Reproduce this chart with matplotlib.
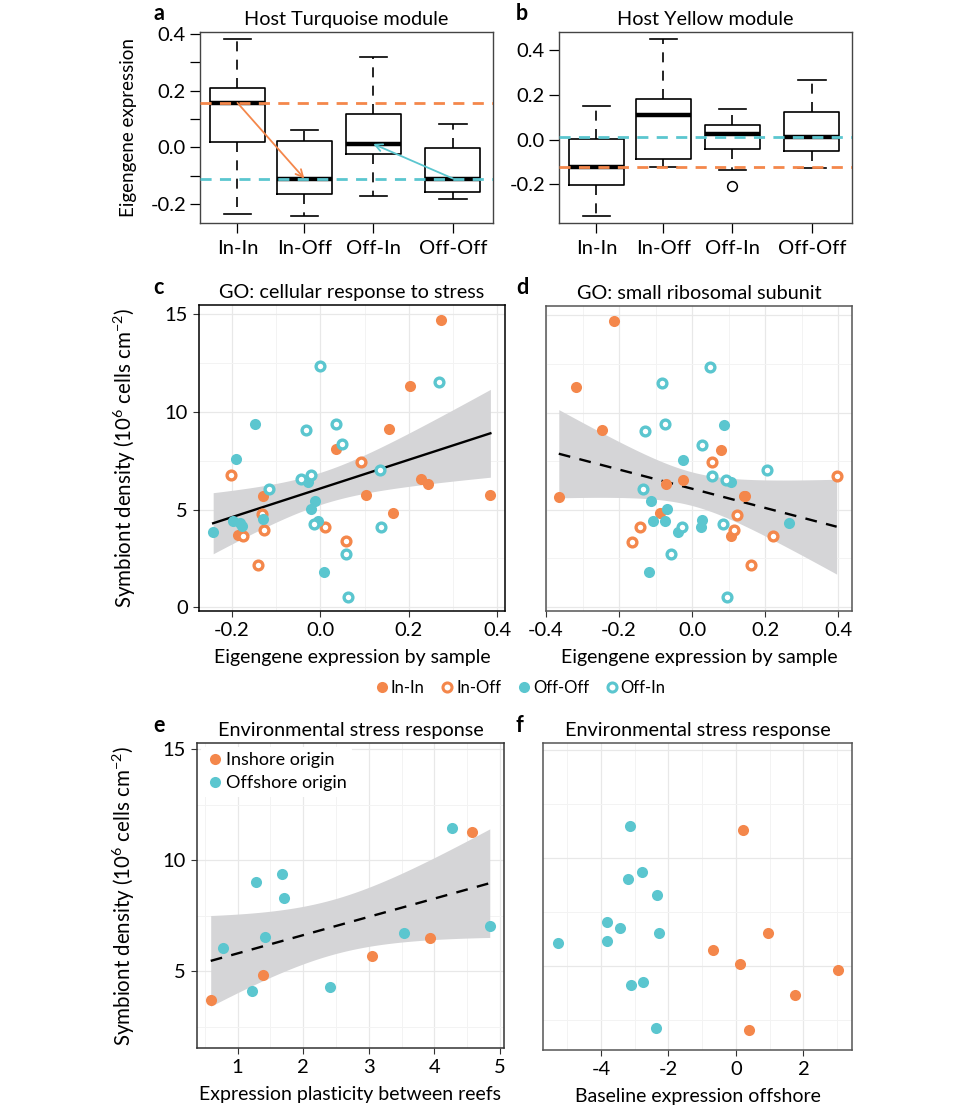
import numpy as np
import matplotlib
matplotlib.use('Agg')
import matplotlib.pyplot as plt
from matplotlib.lines import Line2D
from matplotlib.ticker import MultipleLocator

plt.rcParams['font.family'] = ['Lato', 'DejaVu Sans']
plt.rcParams['mathtext.fontset'] = 'custom'
plt.rcParams['mathtext.rm'] = 'Lato'
plt.rcParams['axes.unicode_minus'] = False

ORANGE = '#F4874B'
CYAN = '#5BC6CF'

# ---- panel a / b : boxplot summaries (whisker low, Q1, median, Q3, whisker high)
groups = ['In-In', 'In-Off', 'Off-In', 'Off-Off']
turq_lo = [-0.235, -0.243, -0.170, -0.181]
turq_q1 = [0.018, -0.164, -0.022, -0.158]
turq_med = [0.157, -0.110, 0.012, -0.110]
turq_q3 = [0.208, 0.023, 0.117, -0.004]
turq_hi = [0.381, 0.060, 0.318, 0.081]
turq_fliers = [[], [], [], []]

yel_lo = [-0.340, -0.124, -0.137, -0.127]
yel_q1 = [-0.201, -0.085, -0.040, -0.052]
yel_med = [-0.122, 0.109, 0.025, 0.013]
yel_q3 = [0.004, 0.183, 0.064, 0.124]
yel_hi = [0.149, 0.450, 0.138, 0.265]
yel_fliers = [[], [], [-0.208], []]

# ---- panels c / d : symbiont density per sample, eigengene x for each GO term
inin_y = [14.73, 11.34, 9.11, 8.08, 6.54, 6.32, 5.68, 5.72, 5.72, 4.83, 3.68]
inin_xc = [0.273, 0.203, 0.154, 0.035, 0.228, 0.243, -0.129, 0.103, 0.384, 0.164, -0.186]
inin_xd = [-0.215, -0.319, -0.247, 0.079, -0.025, -0.072, -0.365, 0.142, 0.145, -0.088, 0.107]

inoff_y = [7.45, 6.76, 4.76, 4.11, 3.66, 3.94, 3.37, 2.14]
inoff_xc = [0.092, -0.202, -0.131, 0.011, -0.175, -0.128, 0.058, -0.140]
inoff_xd = [0.053, 0.395, 0.122, -0.142, 0.220, 0.115, -0.165, 0.162]

offoff_y = [9.37, 7.57, 6.42, 5.43, 5.03, 4.49, 4.42, 4.32, 4.14, 4.42, 3.84, 1.80]
offoff_xc = [-0.147, -0.190, -0.027, -0.013, -0.020, -0.130, -0.197, -0.181, -0.176, -0.006, -0.242, 0.009]
offoff_xd = [0.086, -0.026, 0.106, -0.114, -0.070, 0.027, -0.107, 0.264, 0.024, -0.075, -0.039, -0.119]

offin_y = [12.33, 11.52, 9.06, 9.40, 8.34, 7.05, 6.54, 6.76, 6.06, 4.28, 4.11, 2.71, 0.53]
offin_xc = [0.0, 0.269, -0.032, 0.035, 0.050, 0.135, -0.043, -0.021, -0.117, -0.014, 0.136, 0.058, 0.062]
offin_xd = [0.048, -0.083, -0.130, -0.075, 0.028, 0.204, 0.093, 0.055, -0.134, 0.085, -0.028, -0.057, 0.096]

# ---- panel e : plasticity vs density
e_in_x = [0.589, 1.386, 3.041, 3.929, 4.569]
e_in_y = [3.70, 4.82, 5.70, 6.50, 11.27]
e_off_x = [4.269, 1.279, 1.670, 1.701, 1.421, 0.772, 1.218, 2.406, 3.528, 4.843]
e_off_y = [11.46, 9.03, 9.36, 8.28, 6.53, 6.06, 4.10, 4.30, 6.74, 7.02]

# ---- panel f : baseline offshore expression vs density
f_in_x = [0.20, 0.95, -0.68, 0.12, 3.03, 1.75, 0.39]
f_in_y = [11.28, 6.51, 5.72, 5.10, 4.82, 3.68, 2.02]
f_off_x = [-3.14, -2.80, -3.21, -2.33, -3.81, -3.43, -2.29, -5.29, -3.83, -2.76, -3.11, -2.38]
f_off_y = [11.48, 9.37, 9.04, 8.30, 7.03, 6.74, 6.54, 6.06, 6.14, 4.28, 4.11, 2.13]

W, H = 960, 1106
fig = plt.figure(figsize=(W / 100, H / 100), dpi=100)

TICK = 14.5
TITLE = 14.3
LAB = 13.5


def rect(l, t, r, b):
    return [l / W, 1 - b / H, (r - l) / W, (b - t) / H]


def letter(x, y, s):
    fig.text(x / W, 1 - y / H, s, fontsize=15.5, fontweight='bold', ha='left', va='center')


# ---------------- boxplots
pos = [1, 2, 3.03, 4.22]


def boxpanel(ax, lo, q1, med, q3, hi, fl, title):
    stats = [dict(whislo=lo[i], q1=q1[i], med=med[i], q3=q3[i], whishi=hi[i], fliers=fl[i])
             for i in range(4)]
    ax.bxp(stats, positions=pos, widths=0.82, showfliers=True,
           boxprops=dict(color='black', lw=1.2),
           whiskerprops=dict(color='black', lw=1.2, linestyle=(0, (6, 5))),
           capprops=dict(color='black', lw=1.2),
           medianprops=dict(color='black', lw=3.2),
           flierprops=dict(marker='o', mfc='white', mec='black', ms=7, mew=1.1))
    ax.set_xlim(0.44, 4.82)
    ax.set_xticks(pos)
    ax.set_xticklabels(groups)
    ax.tick_params(direction='out', length=7, width=0.9, labelsize=TICK, pad=5)
    ax.tick_params(axis='y', pad=3)
    for sp in ax.spines.values():
        sp.set_color('#444444')
        sp.set_linewidth(1.0)
    ax.set_title(title, fontsize=TITLE, pad=5)


axa = fig.add_axes(rect(200, 32, 493, 223))
boxpanel(axa, turq_lo, turq_q1, turq_med, turq_q3, turq_hi, turq_fliers, 'Host Turquoise module')
axa.set_ylim(-0.267, 0.407)
axa.yaxis.set_major_locator(MultipleLocator(0.1))
axa.set_yticklabels(['' if abs(round(v * 10)) % 2 else f'{v:.1f}' for v in axa.get_yticks()])
axa.axhline(turq_med[0], color=ORANGE, lw=2, ls=(0, (4, 3)), zorder=5)
axa.axhline(turq_med[3], color=CYAN, lw=2, ls=(0, (4, 3)), zorder=5)
axa.annotate('', xy=(pos[1], turq_med[1]), xytext=(pos[0], turq_med[0]),
             arrowprops=dict(arrowstyle='->', color=ORANGE, lw=1.3, shrinkA=0, shrinkB=0,
                             mutation_scale=13), zorder=6)
axa.annotate('', xy=(pos[2], turq_med[2]), xytext=(pos[3], turq_med[3]),
             arrowprops=dict(arrowstyle='->', color=CYAN, lw=1.3, shrinkA=0, shrinkB=0,
                             mutation_scale=13), zorder=6)
axa.set_ylabel('Eigengene expression', fontsize=LAB)
axa.yaxis.set_label_coords(-0.215, 0.5)

axb = fig.add_axes(rect(559, 32, 852, 223))
boxpanel(axb, yel_lo, yel_q1, yel_med, yel_q3, yel_hi, yel_fliers, 'Host Yellow module')
axb.set_ylim(-0.372, 0.481)
axb.set_yticks([-0.2, 0.0, 0.2, 0.4])
axb.set_yticklabels(['-0.2', '0.0', '0.2', '0.4'])
axb.axhline(yel_med[3], color=CYAN, lw=2, ls=(0, (4, 3)), zorder=5)
axb.axhline(yel_med[0], color=ORANGE, lw=2, ls=(0, (4, 3)), zorder=5)

letter(153, 14, 'a')
letter(516, 14, 'b')


# ---------------- scatter helpers
def gg_axes(ax, spine='#555555'):
    ax.set_axisbelow(True)
    ax.grid(which='major', color='#E8E8E8', lw=0.9)
    ax.grid(which='minor', color='#F3F3F3', lw=0.7)
    ax.tick_params(which='major', direction='out', length=4, width=0.8, labelsize=TICK,
                   color='#333333', pad=4)
    ax.tick_params(which='minor', length=0)
    for sp in ax.spines.values():
        sp.set_color(spine)
        sp.set_linewidth(1.1)


def pts(ax, x, y, color, hollow):
    if hollow:
        ax.scatter(x, y, s=40, facecolor='white', edgecolor=color, linewidth=2.4, zorder=4)
    else:
        ax.scatter(x, y, s=64, color=color, linewidth=0, zorder=4)


def fit_band(ax, x, y, ls, tval):
    x = np.asarray(x)
    y = np.asarray(y)
    n = len(x)
    b1, b0 = np.polyfit(x, y, 1)
    xs = np.linspace(x.min(), x.max(), 100)
    yh = b0 + b1 * xs
    res = y - (b0 + b1 * x)
    s = np.sqrt(np.sum(res ** 2) / (n - 2))
    se = s * np.sqrt(1 / n + (xs - x.mean()) ** 2 / np.sum((x - x.mean()) ** 2))
    ax.fill_between(xs, yh - tval * se, yh + tval * se, color='#D5D5D7', lw=0, zorder=2)
    ax.plot(xs, yh, color='black', ls=ls, lw=1.7, zorder=3)


ylab = 'Symbiont density (10$^{6}$ cells cm$^{-2}$)'
YLAB = 14.8

# ---------------- panel c
axc = fig.add_axes(rect(199, 305, 505, 611))
gg_axes(axc, spine='black')
all_xc = inin_xc + inoff_xc + offoff_xc + offin_xc
all_y = inin_y + inoff_y + offoff_y + offin_y
fit_band(axc, all_xc, all_y, '-', 2.018)
pts(axc, inin_xc, inin_y, ORANGE, False)
pts(axc, inoff_xc, inoff_y, ORANGE, True)
pts(axc, offoff_xc, offoff_y, CYAN, False)
pts(axc, offin_xc, offin_y, CYAN, True)
axc.set_xlim(-0.274, 0.417)
axc.set_ylim(-0.2, 15.48)
axc.set_xticks([-0.2, 0.0, 0.2, 0.4])
axc.set_xticklabels(['-0.2', '0.0', '0.2', '0.4'])
axc.set_yticks([0, 5, 10, 15])
axc.xaxis.set_minor_locator(MultipleLocator(0.1))
axc.yaxis.set_minor_locator(MultipleLocator(2.5))
axc.set_title('GO: cellular response to stress', fontsize=TITLE, pad=5)
axc.set_xlabel('Eigengene expression by sample', fontsize=LAB + 0.5)
axc.xaxis.set_label_coords(0.5, -0.125)
axc.set_ylabel(ylab, fontsize=YLAB)
axc.yaxis.set_label_coords(-0.2, 0.5)

# ---------------- panel d
axd = fig.add_axes(rect(546, 306, 852, 611))
gg_axes(axd)
all_xd = inin_xd + inoff_xd + offoff_xd + offin_xd
fit_band(axd, all_xd, all_y, (0, (5, 4)), 2.018)
pts(axd, inin_xd, inin_y, ORANGE, False)
pts(axd, inoff_xd, inoff_y, ORANGE, True)
pts(axd, offoff_xd, offoff_y, CYAN, False)
pts(axd, offin_xd, offin_y, CYAN, True)
axd.set_xlim(-0.4, 0.437)
axd.set_ylim(-0.2, 15.48)
axd.set_xticks([-0.4, -0.2, 0.0, 0.2, 0.4])
axd.set_xticklabels(['-0.4', '-0.2', '0.0', '0.2', '0.4'])
axd.set_yticks([0, 5, 10, 15])
axd.xaxis.set_minor_locator(MultipleLocator(0.1))
axd.yaxis.set_minor_locator(MultipleLocator(2.5))
axd.tick_params(axis='y', length=0, labelleft=False)
axd.set_title('GO: small ribosomal subunit', fontsize=TITLE, pad=5)
axd.set_xlabel('Eigengene expression by sample', fontsize=LAB + 0.5)
axd.xaxis.set_label_coords(0.5, -0.125)

letter(153, 287, 'c')
letter(516, 287, 'd')

# legend between rows
handles = [
    Line2D([], [], ls='none', marker='o', ms=8, mfc=ORANGE, mec=ORANGE, mew=0),
    Line2D([], [], ls='none', marker='o', ms=6.5, mfc='white', mec=ORANGE, mew=2.2),
    Line2D([], [], ls='none', marker='o', ms=8, mfc=CYAN, mec=CYAN, mew=0),
    Line2D([], [], ls='none', marker='o', ms=6.5, mfc='white', mec=CYAN, mew=2.2),
]
fig.legend(handles, ['In-In', 'In-Off', 'Off-Off', 'Off-In'], loc='center',
           bbox_to_anchor=(519 / W, 1 - 688 / H), ncol=4, frameon=False, fontsize=12,
           handletextpad=0.0, columnspacing=0.8, handlelength=1.1)

# ---------------- panel e
axe = fig.add_axes(rect(197, 743, 504, 1048))
gg_axes(axe, spine='#333333')
fit_band(axe, e_in_x + e_off_x, e_in_y + e_off_y, (0, (5, 4)), 2.160)
pts(axe, e_in_x, e_in_y, ORANGE, False)
pts(axe, e_off_x, e_off_y, CYAN, False)
axe.set_xlim(0.38, 5.06)
axe.set_ylim(1.55, 15.27)
axe.set_xticks([1, 2, 3, 4, 5])
axe.set_yticks([5, 10, 15])
axe.xaxis.set_minor_locator(MultipleLocator(0.5))
axe.yaxis.set_minor_locator(MultipleLocator(2.5))
axe.set_title('Environmental stress response', fontsize=TITLE, pad=5)
axe.set_xlabel('Expression plasticity between reefs', fontsize=LAB + 0.5)
axe.xaxis.set_label_coords(0.5, -0.125)
axe.set_ylabel(ylab, fontsize=YLAB)
axe.yaxis.set_label_coords(-0.194, 0.5)
leg_h = [Line2D([], [], ls='none', marker='o', ms=8, mfc=ORANGE, mec=ORANGE, mew=0),
         Line2D([], [], ls='none', marker='o', ms=8, mfc=CYAN, mec=CYAN, mew=0)]
leg = axe.legend(leg_h, ['Inshore origin', 'Offshore origin'], loc='upper left',
                 frameon=True, fontsize=13, handletextpad=0.1, handlelength=1.0,
                 borderaxespad=0.2, borderpad=0.3, labelspacing=0.4)
leg.get_frame().set_facecolor('white')
leg.get_frame().set_edgecolor('none')
leg.get_frame().set_alpha(1)

# ---------------- panel f
axf = fig.add_axes(rect(543, 743, 852, 1050))
gg_axes(axf)
pts(axf, f_in_x, f_in_y, ORANGE, False)
pts(axf, f_off_x, f_off_y, CYAN, False)
axf.set_xlim(-5.72, 3.44)
axf.set_ylim(1.11, 15.33)
axf.set_xticks([-4, -2, 0, 2])
axf.set_xticklabels(['-4', '-2', '0', '2'])
axf.set_yticks([5, 10, 15])
axf.xaxis.set_minor_locator(MultipleLocator(1))
axf.yaxis.set_minor_locator(MultipleLocator(2.5))
axf.tick_params(axis='y', length=0, labelleft=False)
axf.set_title('Environmental stress response', fontsize=TITLE, pad=5)
axf.set_xlabel('Baseline expression offshore', fontsize=LAB + 0.5)
axf.xaxis.set_label_coords(0.5, -0.125)

letter(153, 725, 'e')
letter(516, 725, 'f')

fig.savefig('out.png', dpi=100)
